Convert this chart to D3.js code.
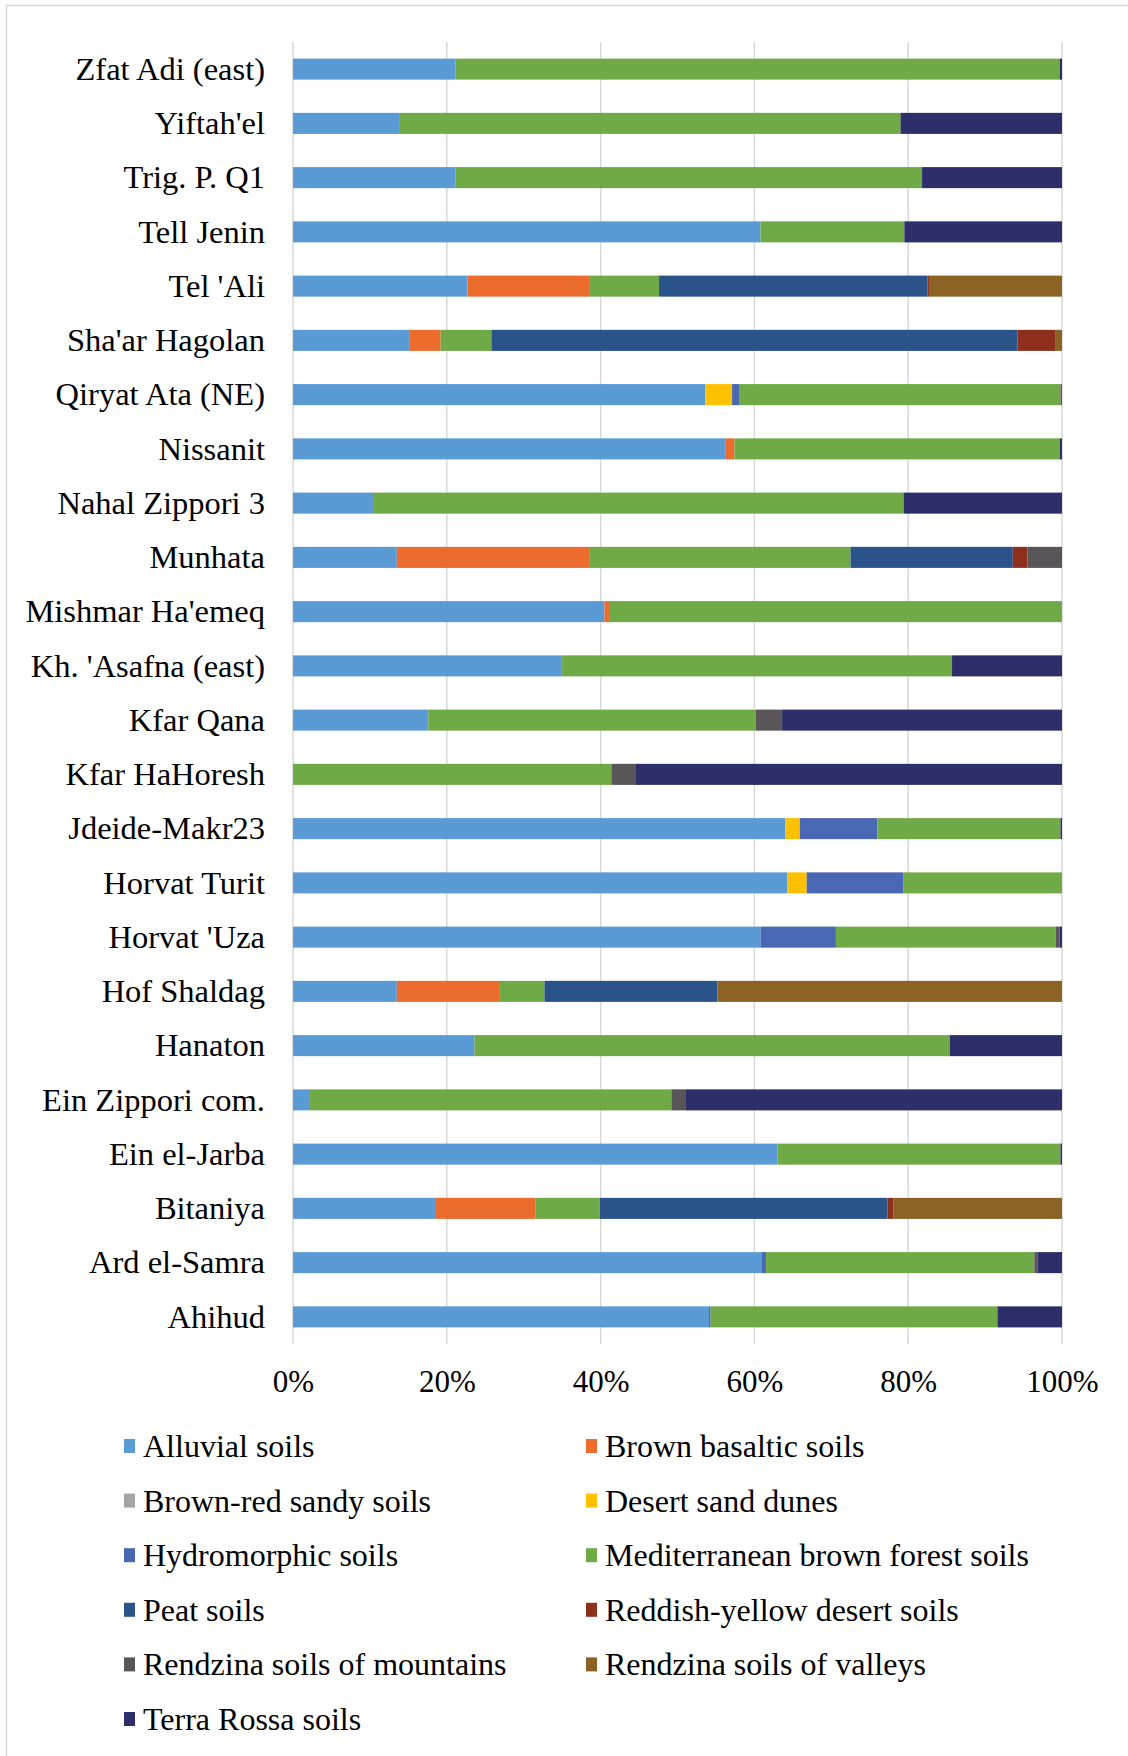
<!DOCTYPE html>
<html>
<head>
<meta charset="utf-8">
<script src="https://cdn.jsdelivr.net/npm/d3@7"></script>
<style>
  html, body { margin: 0; padding: 0; background: #ffffff; }
  svg { display: block; }
  text { font-family: "Liberation Serif", "Times New Roman", serif; fill: #000; }
</style>
</head>
<body>
<script>
// Sites, listed top to bottom as drawn
const sites = [
  "Zfat Adi (east)", "Yiftah'el", "Trig. P. Q1", "Tell Jenin", "Tel 'Ali",
  "Sha'ar Hagolan", "Qiryat Ata (NE)", "Nissanit", "Nahal Zippori 3", "Munhata",
  "Mishmar Ha'emeq", "Kh. 'Asafna (east)", "Kfar Qana", "Kfar HaHoresh", "Jdeide-Makr23",
  "Horvat Turit", "Horvat 'Uza", "Hof Shaldag", "Hanaton", "Ein Zippori com.",
  "Ein el-Jarba", "Bitaniya", "Ard el-Samra", "Ahihud"
];

// Soil types (stack order, left to right)
const soilTypes = [
  "Alluvial soils", "Brown basaltic soils", "Brown-red sandy soils", "Desert sand dunes",
  "Hydromorphic soils", "Mediterranean brown forest soils", "Peat soils",
  "Reddish-yellow desert soils", "Rendzina soils of mountains", "Rendzina soils of valleys",
  "Terra Rossa soils"
];

// Share of each soil type per site (%), same order as `sites`
const alluvial      = [21.1, 13.9, 21.1, 60.8, 22.7, 15.1, 53.6, 56.2, 10.4, 13.5, 40.5, 35.0, 17.6, 0, 64.0, 64.3, 60.8, 13.5, 23.6, 2.2, 63.0, 18.6, 60.9, 54.1];
const brownBasaltic = [0, 0, 0, 0, 15.8, 4.1, 0, 1.2, 0, 25.1, 0.6, 0, 0, 0, 0, 0, 0, 13.3, 0, 0, 0, 12.9, 0, 0];
const brownRedSandy = [0, 0, 0, 0, 0, 0, 0, 0, 0, 0, 0, 0, 0, 0, 0, 0, 0, 0, 0, 0, 0, 0, 0, 0];
const desertDunes   = [0, 0, 0, 0, 0, 0, 3.5, 0, 0, 0, 0, 0, 0, 0, 1.9, 2.5, 0, 0, 0, 0, 0, 0, 0, 0];
const hydromorphic  = [0, 0, 0, 0, 0, 0, 0.9, 0, 0, 0, 0, 0, 0, 0, 10.1, 12.6, 9.8, 0, 0, 0, 0, 0, 0.6, 0.2];
const mediterranean = [78.6, 65.1, 60.7, 18.7, 9.1, 6.6, 41.8, 42.3, 69.0, 33.9, 58.9, 50.7, 42.6, 41.4, 23.8, 20.6, 28.6, 5.9, 61.8, 47.0, 36.8, 8.4, 34.9, 37.3];
const peat          = [0, 0, 0, 0, 34.9, 68.4, 0, 0, 0, 21.1, 0, 0, 0, 0, 0, 0, 0, 22.5, 0, 0, 0, 37.4, 0, 0];
const reddishYellow = [0, 0, 0, 0, 0.2, 4.9, 0, 0, 0, 1.9, 0, 0, 0, 0, 0, 0, 0, 0, 0, 0, 0, 0.8, 0, 0];
const rendzinaMount = [0, 0, 0, 0, 0, 0, 0.2, 0, 0, 4.5, 0, 0, 3.4, 3.1, 0, 0, 0.5, 0, 0, 1.9, 0, 0, 0.4, 0];
const rendzinaValley= [0, 0, 0, 0, 17.3, 0.9, 0, 0, 0, 0, 0, 0, 0, 0, 0, 0, 0, 44.8, 0, 0, 0, 21.9, 0, 0];
const terraRossa    = [0.3, 21.0, 18.2, 20.5, 0, 0, 0, 0.3, 20.6, 0, 0, 14.3, 36.4, 55.5, 0.2, 0, 0.3, 0, 14.6, 48.9, 0.2, 0, 3.2, 8.4];

const tickLabels = ["0%", "20%", "40%", "60%", "80%", "100%"];

const seriesValues = [alluvial, brownBasaltic, brownRedSandy, desertDunes, hydromorphic,
  mediterranean, peat, reddishYellow, rendzinaMount, rendzinaValley, terraRossa];

const colors = ["#5B9BD5", "#EC6C2E", "#A5A5A5", "#FFC000", "#4A67B4", "#70AA46",
  "#2A5389", "#8E2F1C", "#5A5558", "#8B6124", "#2D2F6A"];

// Rows for the stack layout
const rows = sites.map((s, i) => {
  const r = { site: s };
  soilTypes.forEach((k, j) => { r[k] = seriesValues[j][i]; });
  return r;
});

const W = 1128, H = 1756;
const svg = d3.select("body").append("svg").attr("width", W).attr("height", H);

// Chart area frame
svg.append("rect")
  .attr("x", 6.5).attr("y", 5.5).attr("width", W + 20).attr("height", H + 20)
  .attr("fill", "#fff").attr("stroke", "#d9d9d9").attr("stroke-width", 1.5);

const plot = { left: 293, right: 1062, top: 42, bottom: 1344 };

const x = d3.scaleLinear().domain([0, 1]).range([plot.left, plot.right]);
const y = d3.scaleBand().domain(sites).range([plot.top, plot.bottom])
  .paddingInner(0.612).paddingOuter(0.306);
const color = d3.scaleOrdinal().domain(soilTypes).range(colors);

// Vertical gridlines
const ticks = d3.range(0, 1.0001, 0.2);
svg.append("g").selectAll("line").data(ticks).join("line")
  .attr("x1", d => x(d)).attr("x2", d => x(d))
  .attr("y1", plot.top).attr("y2", plot.bottom)
  .attr("stroke", "#d6d6d6").attr("stroke-width", 1.4);

// 100% stacked bars
const stacked = d3.stack().keys(soilTypes).offset(d3.stackOffsetExpand)(rows);
svg.append("g").selectAll("g").data(stacked).join("g")
  .attr("fill", d => color(d.key))
  .selectAll("rect").data(d => d).join("rect")
  .attr("x", d => x(d[0]))
  .attr("width", d => Math.max(0, x(d[1]) - x(d[0])))
  .attr("y", d => y(d.data.site))
  .attr("height", y.bandwidth());

// Category axis labels
const yAxis = d3.axisLeft(y).tickSize(0).tickPadding(0);
const gy = svg.append("g").attr("transform", `translate(265,0)`).call(yAxis);
gy.select(".domain").remove();
gy.selectAll("text")
  .attr("font-family", "Liberation Serif, Times New Roman, serif")
  .attr("font-size", 32.5).attr("fill", "#000").attr("dy", "0.33em");

// Percentage axis labels
const xAxis = d3.axisBottom(x).tickValues(ticks).tickSize(0).tickPadding(0)
  .tickFormat((d, i) => tickLabels[i]);
const gx = svg.append("g").attr("transform", `translate(0,1392)`).call(xAxis);
gx.select(".domain").remove();
gx.selectAll("text")
  .attr("font-family", "Liberation Serif, Times New Roman, serif")
  .attr("font-size", 31).attr("fill", "#000").attr("dy", 0).attr("y", 0);

// Legend, two columns
const legend = svg.append("g");
const colX = [124, 586];
const rowY = 1457, rowStep = 54.6;
soilTypes.forEach((k, i) => {
  const cx = colX[i % 2];
  const by = rowY + Math.floor(i / 2) * rowStep;
  const g = legend.append("g");
  g.append("rect").attr("x", cx).attr("y", by - 18).attr("width", 11).attr("height", 14)
    .attr("fill", color(k));
  g.append("text").attr("x", cx + 19).attr("y", by)
    .attr("font-size", 32).text(k);
});
</script>
</body>
</html>
